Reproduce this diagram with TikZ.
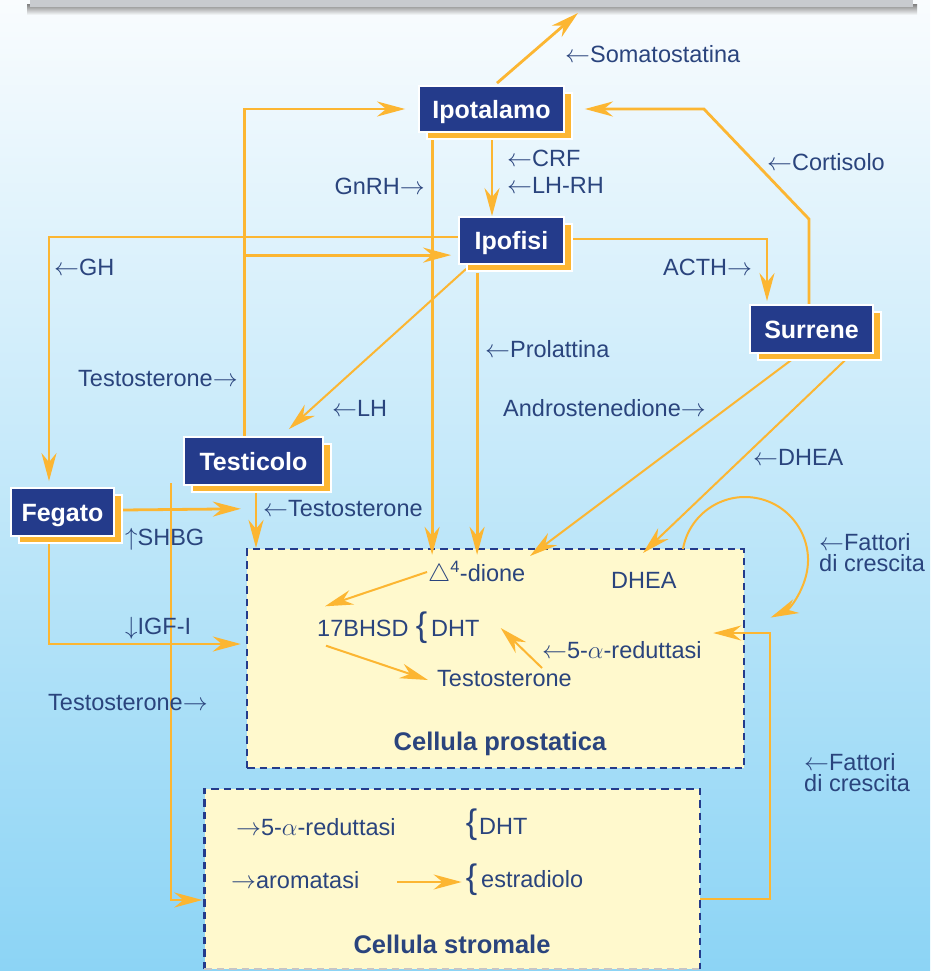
\documentclass[tikz,border=0pt]{standalone}
\usepackage{fontspec}
\setmainfont{Liberation Sans}
\usetikzlibrary{arrows.meta,shadows,calc}
\pgfdeclarelayer{back}
\pgfdeclarelayer{mid}
\pgfsetlayers{back,mid,main}
\definecolor{boxblue}{RGB}{36,59,139}
\definecolor{txtblue}{RGB}{42,68,125}
\definecolor{orng}{RGB}{252,182,50}
\definecolor{cellfill}{RGB}{255,249,205}
\definecolor{bgtop}{RGB}{249,252,254}
\definecolor{bgmid}{RGB}{212,237,250}
\definecolor{bgbot}{RGB}{140,212,245}
\definecolor{barg}{RGB}{200,203,207}
\newcommand{\la}{$\leftarrow$}
\newcommand{\ra}{$\rightarrow$}
\begin{document}
\begin{tikzpicture}[x=1pt,y=-1pt,
  organ/.style={fill=boxblue, draw=white, line width=1.8pt, text=white,
     font=\fontsize{25}{25}\selectfont\bfseries, inner sep=0pt,
     text height=18pt, text depth=0pt,
     copy shadow={shadow xshift=8pt, shadow yshift=-7pt, fill=orng, draw=white, line width=1.8pt}},
  lbl/.style={text=txtblue, font=\fontsize{23.5}{21}\selectfont, inner sep=0pt,
     text height=17pt, text depth=0pt, anchor=west},
  lbltwo/.style={text=txtblue, font=\fontsize{23.5}{21}\selectfont, inner sep=0pt,
     align=left, anchor=north west},
  bracestyle/.style={text=txtblue, font=\fontsize{34}{34}\selectfont, inner sep=0pt},
  celltitle/.style={text=txtblue, font=\fontsize{25.5}{25.5}\selectfont\bfseries, inner sep=0pt,
     text height=18pt, text depth=0pt},
  cell/.style={fill=cellfill, draw=boxblue, line width=2.4pt, dash pattern=on 7.5pt off 5pt},
  celledge/.style={draw=boxblue, line width=2.4pt, dash pattern=on 7.5pt off 5pt},
  arr/.style={draw=orng, line width=2.8pt, -{Stealth[length=28pt,width=15pt,inset=9pt]}},
  arrt/.style={arr, line width=2pt},
]
\path[use as bounding box] (0,0) rectangle (930,971);

\begin{pgfonlayer}{back}
  \shade[top color=bgtop, middle color=bgmid, bottom color=bgbot] (0,0) rectangle (930,971);
  \shade[top color=black!45, bottom color=bgtop] (27,5) rectangle (917,15);
  \fill[barg] (30,0) rectangle (913,7);
  % cells
  \node[cell, minimum width=497pt, minimum height=219pt, inner sep=0pt] (prost) at (495.5,658.5) {};
  \node[fill=cellfill, minimum width=495.5pt, minimum height=180pt, inner sep=0pt] (strom) at (452.25,879) {};
  \draw[celledge] (strom.south west) -- (strom.north west) -- (strom.north east) -- (strom.south east);
  \draw[gray!45, line width=1.5pt, dash pattern=on 7.5pt off 5pt] (strom.south west) -- (strom.south east);
\end{pgfonlayer}

% organ nodes
\node[organ, minimum width=145pt, minimum height=46pt] (ipot) at (491.5,109) {Ipotalamo};
\node[organ, minimum width=105pt, minimum height=47pt] (ipof) at (511.5,240.5) {Ipofisi};
\node[organ, minimum width=123pt, minimum height=48pt] (surr) at (811.5,329) {Surrene};
\node[organ, minimum width=139pt, minimum height=48pt] (test) at (253.5,461) {Testicolo};
\node[organ, minimum width=103pt, minimum height=48pt] (feg) at (62.5,512) {Fegato};

% labels
\node[lbl] (lsoma) at (565,54) {\la Somatostatina};
\node[lbl] (lcrf) at (507,158) {\la CRF};
\node[lbl] (llhrh) at (507,185) {\la LH-RH};
\node[lbl, anchor=east] (lgnrh) at (425,186) {GnRH\ra};
\node[lbl] (lcort) at (767,162) {\la Cortisolo};
\node[lbl] (lgh) at (54,267) {\la GH};
\node[lbl] (lacth) at (663,267) {ACTH\ra};
\node[lbl] (lprol) at (485,349) {\la Prolattina};
\node[lbl] (ltest1) at (78,378) {Testosterone\ra};
\node[lbl] (llh) at (332,408) {\la LH};
\node[lbl] (landro) at (503,408) {Androstenedione\ra};
\node[lbl] (ldhea) at (753,457) {\la DHEA};
\node[lbl] (ltest2) at (263,508) {\la Testosterone};
\node[lbl] (lshbg) at (125,537) {$\uparrow$SHBG};
\node[lbltwo] (lfat1) at (819,533) {\la Fattori\\di crescita};
\node[lbltwo] (lfat2) at (804,753) {\la Fattori\\di crescita};
\node[lbl] (ligf) at (125,626) {$\downarrow$IGF-I};
\node[lbl] (ltest4) at (48,702) {Testosterone\ra};

% inside prostatic cell
\node[lbl] (dhea) at (611,580) {DHEA};
\node[lbl] (dione) at (428,573) {$\triangle$\textsuperscript{4}-dione};
\node[lbl] (bhsd) at (317,628) {17BHSD};
\node[bracestyle] (br1) at (421.5,628) {\{};
\node[lbl] (dht1) at (431,628) {DHT};
\node[lbl] (red1) at (542,650) {\la 5-$\alpha$-reduttasi};
\node[lbl] (testo3) at (437,678) {Testosterone};
\node[celltitle] (ptitle) at (500,741) {Cellula prostatica};

% inside stromal cell
\node[lbl] (red2) at (236,827) {\ra 5-$\alpha$-reduttasi};
\node[bracestyle] (br2) at (471.5,825) {\{};
\node[lbl] (dht2) at (479,826) {DHT};
\node[lbl] (arom) at (231,880) {\ra aromatasi};
\node[bracestyle] (br3) at (471.5,880) {\{};
\node[lbl] (estr) at (481,879) {estradiolo};
\node[celltitle] (stitle) at (452,944) {Cellula stromale};

\begin{pgfonlayer}{mid}
  % Somatostatina
  \coordinate (soma) at (578,13);
  \draw[arr] ($(ipot.north)+(5.5,-2)$) -- (soma);
  % Testicolo -> Ipotalamo, Ipofisi
  \coordinate (tup) at ($(test.north west)+(61,0)$);
  \draw[arr, shorten >=13pt] (tup) |- (ipot.west);
  \coordinate (tbr) at ($(tup)+(0,-181)$);
  \draw[arr, shorten >=7pt] (tbr) -- (tbr -| ipof.west);
  % Surrene -> Ipotalamo (cortisolo)
  \draw[arr, shorten >=20pt] ($(surr.north)+(-2.5,0)$) -- ++(0,-85) -- ($(ipot.east)+(139,0)$) -- (ipot.east);
  % Ipotalamo -> Ipofisi
  \coordinate (a1) at ($(ipot.south)+(0.5,7)$);
  \draw[arr] (a1) -- (a1 |- ipof.north);
  % Ipotalamo -> prostata
  \coordinate (a2) at ($(ipot.south west)+(14,7)$);
  \draw[arr, shorten >=-7pt] (a2) -- (a2 |- prost.north);
  % Ipofisi -> Fegato (GH)
  \draw[arr, shorten >=6pt] ($(ipof.west)+(0,-3.5)$) -| ($(feg.north)+(-13.5,0)$);
  % Ipofisi -> Surrene (ACTH)
  \draw[arr, shorten >=3pt] ($(ipof.east)+(0,-1.5)$) -| ($(surr.north)+(-44.5,0)$);
  % Ipofisi -> Testicolo (LH)
  \draw[arrt] ($(ipof.south west)+(8,4)$) -- ($(test.north east)+(-35,-7)$);
  % Ipofisi -> prostata (Prolattina)
  \coordinate (a3) at ($(ipof.south west)+(19,8)$);
  \draw[arr, shorten >=-7pt] (a3) -- (a3 |- prost.north);
  % Surrene -> prostata
  \coordinate (andro) at (530,556);
  \draw[arrt] ($(surr.south)+(-16,3)$) -- (andro);
  \coordinate (dheaT) at (643,553);
  \draw[arrt] ($(surr.south)+(36,4)$) -- (dheaT);
  % growth factor loop
  \coordinate (cc) at (745,560);
  \draw[arrt] ($(cc)+(190:63)$) arc[start angle=190, end angle=426, radius=63];
  % stromal -> prostatic
  \draw[arrt] ($(strom.east)+(0,20)$) -- ++(70,0) |- ($(prost.east)+(-32,-25.5)$);
  % Fegato
  \coordinate (shbgT) at ($(prost.north west)+(-5,-39)$);
  \draw[arr] ($(feg.east)+(8,-2)$) -- (shbgT);
  \draw[arr] ($(feg.south)+(-13.5,7)$) |- ($(prost.west)+(-5,-14.5)$);
  % Testicolo -> prostata
  \draw[arr] ($(test.south)+(2.5,7)$) -- ($(test.south)+(2.5,62)$);
  % Testosterone -> stromal
  \coordinate (tfree) at (171,483);
  \draw[arr] (tfree) |- ($(strom.west)+(-2,21)$);
  % inside prostatic cell
  \draw[arrt] ($(dione.west)+(-1,-1)$) -- ($(bhsd.north west)+(8,-13)$);
  \draw[arrt] ($(bhsd.south west)+(9,9)$) -- ($(testo3.west)+(-9,2)$);
  \draw[arrt] ($(red1.west)+(0,18)$) -- ($(dht1.east)+(21,0)$);
  % inside stromal cell
  \draw[arrt] ($(arom.east)+(38,2)$) -- ($(br3.west)+(-4,2)$);
\end{pgfonlayer}
\end{tikzpicture}
\end{document}
